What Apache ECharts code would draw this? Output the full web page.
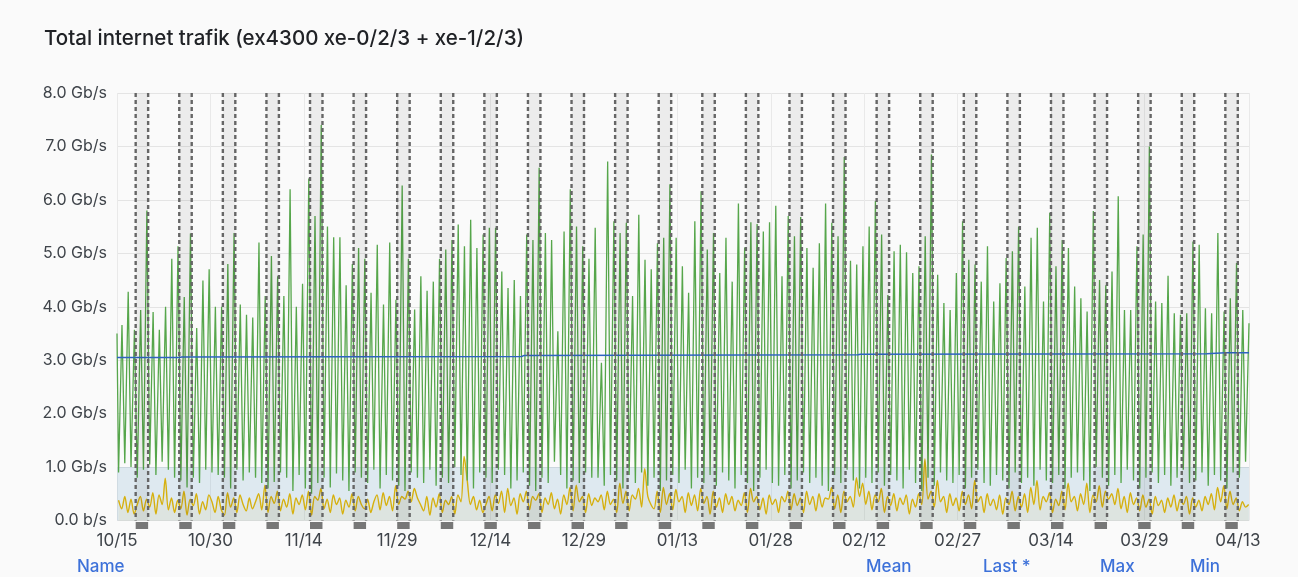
<!DOCTYPE html>
<html>
<head>
<meta charset="utf-8">
<title>Total internet trafik</title>
<script src="https://cdn.jsdelivr.net/npm/echarts@6/dist/echarts.min.js"></script>
<style>
  html, body { margin: 0; padding: 0; background: #fafafa; }
  #chart { width: 1298px; height: 577px; }
</style>
</head>
<body>
<div id="chart"></div>
<script>
// x values are days since 10/15; one tick label every 15 days
const tickLabels = ['10/15', '10/30', '11/14', '11/29', '12/14', '12/29', '01/13',
  '01/28', '02/12', '02/27', '03/14', '03/29', '04/13'];
const lastDay = 181.8;

// weekend annotations (saturday, in days since 10/15), each two days long
const weekendStarts = [3, 10, 17, 24, 31, 38, 45, 52, 59, 66, 73, 80, 87, 94, 101,
  108, 115, 122, 129, 136, 143, 150, 157, 164, 171, 178];

// green: daily night low and evening high, Gb/s
const greenLow = [
  0.90, 1.07, 1.00, 0.80, 0.95, 1.05, 0.85, 1.10, 0.95, 0.80,
  0.75, 0.62, 0.80, 0.70, 0.95, 0.90, 0.85, 0.80, 0.60, 0.95,
  0.75, 0.90, 0.80, 0.70, 0.60, 0.72, 0.90, 0.80, 0.55, 0.85,
  0.60, 0.50, 0.70, 0.80, 0.62, 0.88, 0.75, 0.55, 0.90, 0.80,
  0.70, 0.95, 0.60, 0.85, 0.75, 0.65, 0.55, 0.90, 0.80, 0.70,
  0.95, 0.65, 0.80, 0.70, 1.00, 0.85, 0.75, 0.60, 0.90, 0.80,
  0.70, 0.95, 0.85, 0.60, 0.75, 0.90, 0.65, 0.55, 0.80, 0.70,
  1.10, 0.85, 0.60, 0.75, 0.70, 0.90, 0.80, 0.80, 0.65, 0.85,
  0.75, 0.60, 0.85, 0.70, 0.90, 0.65, 0.80, 0.55, 0.75, 0.85,
  0.70, 0.95, 0.60, 0.80, 0.70, 0.85, 0.65, 0.90, 0.75, 0.60,
  0.85, 0.70, 0.55, 0.80, 0.95, 0.70, 0.65, 0.85, 0.60, 0.75,
  0.90, 0.70, 0.80, 0.65, 0.55, 0.85, 0.70, 0.95, 0.75, 0.60,
  0.80, 0.70, 0.90, 0.65, 0.85, 0.75, 0.60, 0.95, 0.70, 0.55,
  0.80, 0.65, 0.90, 0.75, 0.70, 0.85, 0.60, 0.80, 0.95, 0.70,
  0.65, 0.85, 0.75, 0.60, 0.90, 0.70, 0.80, 0.65, 0.95, 0.75,
  0.70, 0.85, 0.60, 0.80, 0.90, 0.75, 0.55, 1.00, 0.80, 0.65,
  0.85, 0.70, 0.95, 0.75, 0.60, 0.80, 0.90, 0.70, 0.85, 0.65,
  0.80, 0.95, 0.70, 0.75, 0.90, 0.65, 0.85, 0.75, 0.60, 0.90,
  0.80, 1.10
];
const greenHigh = [
  3.66, 4.28, 3.57, 3.94, 5.80, 3.90, 3.57, 4.00, 4.90, 5.13,
  4.18, 5.37, 3.60, 4.49, 4.70, 4.00, 4.00, 4.80, 5.38, 4.04,
  3.85, 3.80, 5.20, 4.20, 4.95, 4.57, 4.20, 6.20, 4.00, 4.43,
  6.40, 5.70, 7.40, 5.50, 5.30, 5.30, 4.40, 4.80, 5.10, 4.90,
  4.26, 5.16, 4.04, 5.20, 4.13, 6.27, 4.90, 3.95, 4.57, 4.30,
  4.47, 4.90, 5.07, 5.25, 5.54, 5.13, 5.63, 5.10, 5.35, 5.48,
  5.48, 4.66, 4.35, 4.50, 4.20, 5.35, 5.25, 6.60, 5.38, 5.25,
  3.54, 5.41, 6.20, 5.50, 5.13, 4.90, 5.48, 2.95, 6.72, 5.60,
  5.38, 5.57, 4.20, 5.72, 4.88, 4.70, 5.19, 5.29, 6.29, 5.29,
  4.76, 4.26, 5.60, 6.16, 5.07, 5.38, 4.63, 5.29, 4.47, 5.93,
  5.11, 5.58, 5.55, 5.41, 5.58, 5.89, 4.57, 5.70, 5.32, 5.68,
  5.10, 4.73, 5.19, 5.93, 5.57, 5.32, 6.80, 4.86, 4.79, 5.13,
  5.50, 5.98, 5.35, 4.22, 5.04, 5.16, 5.02, 4.63, 4.76, 5.32,
  6.85, 4.60, 4.07, 3.94, 4.63, 5.60, 4.88, 4.79, 4.47, 5.13,
  4.10, 4.44, 4.91, 5.04, 5.50, 4.38, 5.29, 5.48, 4.10, 5.76,
  4.76, 5.25, 5.10, 4.38, 4.16, 3.91, 5.79, 4.50, 4.40, 4.66,
  6.07, 3.94, 3.94, 5.13, 5.35, 7.00, 4.10, 4.07, 4.58, 3.88,
  3.85, 3.88, 5.22, 5.16, 3.97, 3.88, 5.38, 3.91, 4.16, 4.82,
  3.94, 3.69
];

// yellow: two readings a day (morning, evening), Gb/s
const yellowVals = [
  0.38, 0.22, 0.45, 0.15, 0.40, 0.12, 0.30, 0.45, 0.18, 0.40,
  0.25, 0.52, 0.12, 0.48, 0.30, 0.79, 0.20, 0.42, 0.15, 0.38,
  0.22, 0.55, 0.10, 0.40, 0.28, 0.50, 0.12, 0.35, 0.20, 0.48,
  0.35, 0.15, 0.45, 0.20, 0.10, 0.52, 0.25, 0.42, 0.15, 0.48,
  0.30, 0.18, 0.42, 0.22, 0.35, 0.50, 0.20, 0.66, 0.15, 0.45,
  0.32, 0.55, 0.18, 0.40, 0.25, 0.50, 0.12, 0.42, 0.30, 0.48,
  0.20, 0.55, 0.10, 0.45, 0.38, 0.60, 0.22, 0.40, 0.15, 0.48,
  0.30, 0.42, 0.12, 0.38, 0.25, 0.50, 0.18, 0.45, 0.30, 0.22,
  0.40, 0.15, 0.35, 0.48, 0.20, 0.52, 0.28, 0.45, 0.18, 0.65,
  0.30, 0.45, 0.40, 0.55, 0.35, 0.60, 0.42, 0.30, 0.18, 0.45,
  0.10, 0.42, 0.25, 0.50, 0.15, 0.38, 0.30, 0.45, 0.12, 0.48,
  0.35, 1.20, 0.75, 0.30, 0.45, 0.20, 0.38, 0.15, 0.30, 0.45,
  0.18, 0.48, 0.32, 0.55, 0.15, 0.60, 0.28, 0.42, 0.12, 0.50,
  0.35, 0.55, 0.20, 0.45, 0.38, 0.50, 0.15, 0.42, 0.30, 0.52,
  0.22, 0.40, 0.12, 0.48, 0.30, 0.62, 0.18, 0.66, 0.35, 0.45,
  0.15, 0.50, 0.28, 0.42, 0.35, 0.48, 0.20, 0.55, 0.30, 0.40,
  0.15, 0.70, 0.32, 0.55, 0.18, 0.48, 0.40, 0.60, 0.25, 0.97,
  0.45, 0.30, 0.22, 0.55, 0.15, 0.62, 0.30, 0.50, 0.20, 0.58,
  0.35, 0.45, 0.15, 0.52, 0.28, 0.48, 0.18, 0.60, 0.32, 0.45,
  0.12, 0.55, 0.25, 0.42, 0.15, 0.50, 0.30, 0.45, 0.18, 0.38,
  0.28, 0.52, 0.15, 0.60, 0.35, 0.45, 0.20, 0.42, 0.12, 0.48,
  0.30, 0.40, 0.15, 0.45, 0.35, 0.55, 0.20, 0.50, 0.28, 0.42,
  0.15, 0.55, 0.30, 0.45, 0.18, 0.50, 0.25, 0.42, 0.40, 0.62,
  0.22, 0.48, 0.15, 0.55, 0.35, 0.45, 0.25, 0.80, 0.45, 0.70,
  0.30, 0.55, 0.20, 0.48, 0.35, 0.60, 0.15, 0.45, 0.28, 0.50,
  0.18, 0.42, 0.30, 0.48, 0.12, 0.40, 0.25, 0.50, 0.30, 1.15,
  0.40, 0.55, 0.25, 0.75, 0.35, 0.45, 0.15, 0.50, 0.28, 0.42,
  0.18, 0.55, 0.30, 0.48, 0.22, 0.75, 0.35, 0.45, 0.15, 0.50,
  0.28, 0.40, 0.20, 0.48, 0.12, 0.42, 0.30, 0.55, 0.18, 0.45,
  0.25, 0.50, 0.15, 0.62, 0.30, 0.75, 0.20, 0.45, 0.35, 0.52,
  0.15, 0.40, 0.28, 0.55, 0.20, 0.70, 0.35, 0.45, 0.18, 0.50,
  0.30, 0.70, 0.15, 0.48, 0.35, 0.65, 0.25, 0.55, 0.40, 0.50,
  0.30, 0.60, 0.22, 0.45, 0.15, 0.52, 0.30, 0.42, 0.18, 0.48,
  0.25, 0.40, 0.12, 0.45, 0.28, 0.38, 0.15, 0.42, 0.25, 0.48,
  0.18, 0.40, 0.30, 0.45, 0.12, 0.42, 0.25, 0.38, 0.18, 0.45,
  0.30, 0.50, 0.20, 0.62, 0.35, 0.65, 0.22, 0.55, 0.30, 0.42,
  0.18, 0.35, 0.25, 0.30
];

// blue: slowly rising long-term average [day, Gb/s]
const blueDays = [0, 10, 10.4, 65, 65.4, 119, 119.4, 175, 178, 181.8];
const blueVals = [3.05, 3.05, 3.06, 3.07, 3.09, 3.10, 3.11, 3.12, 3.14, 3.14];

const greenStart = 3.50;

const greenData = [[0, greenStart]];
greenHigh.forEach(function (v, d) {
  greenData.push([d + 0.25, greenLow[d]]);
  greenData.push([Math.min(d + 0.8, lastDay), v]);
});
const yellowData = yellowVals.map(function (v, i) {
  return [Math.floor(i / 2) + (i % 2 ? 0.75 : 0.25), v];
});
const blueData = blueDays.map(function (d, i) { return [d, blueVals[i]]; });
const bandData = weekendStarts.map(function (d) { return [d, d + 2]; });

const chart = echarts.init(document.getElementById('chart'));

function renderBand(params, api) {
  const tl = api.coord([api.value(0), 8]);
  const br = api.coord([api.value(1), 0]);
  const dash = { stroke: '#666666', lineWidth: 2.4, lineDash: [4, 3] };
  return {
    type: 'group',
    children: [
      { type: 'rect', shape: { x: tl[0], y: tl[1], width: br[0] - tl[0], height: br[1] - tl[1] },
        style: { fill: 'rgba(0,0,0,0.055)' } },
      { type: 'line', shape: { x1: tl[0], y1: tl[1], x2: tl[0], y2: br[1] }, style: dash },
      { type: 'line', shape: { x1: br[0], y1: tl[1], x2: br[0], y2: br[1] }, style: dash },
      { type: 'rect', shape: { x: tl[0], y: br[1] + 1.5, width: br[0] - tl[0], height: 7 },
        style: { fill: '#777777' } }
    ]
  };
}

const headerStyle = { fontSize: 17, fontWeight: 500, fill: '#3d71d9', fontFamily: 'Inter' };

const option = {
  backgroundColor: '#fafafa',
  animation: false,
  textStyle: { fontFamily: 'Inter, "Noto Sans", sans-serif' },
  title: {
    text: 'Total internet trafik (ex4300 xe-0/2/3 + xe-1/2/3)',
    left: 39,
    top: 23,
    textStyle: { fontSize: 20.5, fontWeight: 500, color: '#202226' }
  },
  grid: { left: 117, right: 49, top: 93, bottom: 56.5 },
  xAxis: {
    type: 'value',
    min: 0,
    max: lastDay,
    interval: 15,
    axisLine: { show: false },
    axisTick: { show: false },
    splitLine: { show: true, lineStyle: { color: '#e9e9e9', width: 1 } },
    axisLabel: {
      margin: 12,
      fontSize: 17,
      color: '#3f444a',
      showMaxLabel: false,
      formatter: function (v) {
        return v % 15 === 0 ? (tickLabels[v / 15] || '') : '';
      }
    }
  },
  yAxis: {
    type: 'value',
    min: 0,
    max: 8,
    interval: 1,
    axisLine: { show: false },
    axisTick: { show: false },
    splitLine: { lineStyle: { color: '#e4e4e4', width: 1 } },
    axisLabel: {
      margin: 10,
      fontSize: 16,
      color: '#3f444a',
      formatter: function (v) { return v === 0 ? '0.0 b/s' : v.toFixed(1) + ' Gb/s'; }
    }
  },
  series: [
    {
      name: 'yellow',
      type: 'line',
      data: yellowData,
      showSymbol: false,
      smooth: 0.3,
      lineStyle: { color: '#d6b00e', width: 1.4 },
      itemStyle: { color: '#d6b00e' },
      areaStyle: { color: 'rgba(214,176,14,0.10)' },
      z: 3,
      markArea: {
        silent: true,
        itemStyle: { color: 'rgba(110,165,200,0.20)' },
        data: [[{ yAxis: 0 }, { yAxis: 1 }]]
      }
    },
    {
      name: 'green',
      type: 'line',
      data: greenData,
      showSymbol: false,
      lineStyle: { color: '#56a64b', width: 1.3 },
      itemStyle: { color: '#56a64b' },
      z: 4
    },
    {
      name: 'blue',
      type: 'line',
      data: blueData,
      showSymbol: false,
      lineStyle: { color: '#2f64c0', width: 1.5 },
      itemStyle: { color: '#2f64c0' },
      z: 5
    },
    {
      name: 'weekends',
      type: 'custom',
      renderItem: renderBand,
      data: bandData,
      encode: { x: [0, 1] },
      silent: true,
      clip: false,
      z: 6
    }
  ],
  graphic: [
    { type: 'text', left: 77, top: 558, style: Object.assign({ text: 'Name' }, headerStyle) },
    { type: 'text', left: 866, top: 558, style: Object.assign({ text: 'Mean' }, headerStyle) },
    { type: 'text', left: 983, top: 558, style: Object.assign({ text: 'Last *' }, headerStyle) },
    { type: 'text', left: 1100, top: 558, style: Object.assign({ text: 'Max' }, headerStyle) },
    { type: 'text', left: 1190, top: 558, style: Object.assign({ text: 'Min' }, headerStyle) }
  ]
};

chart.setOption(option);
</script>
</body>
</html>
